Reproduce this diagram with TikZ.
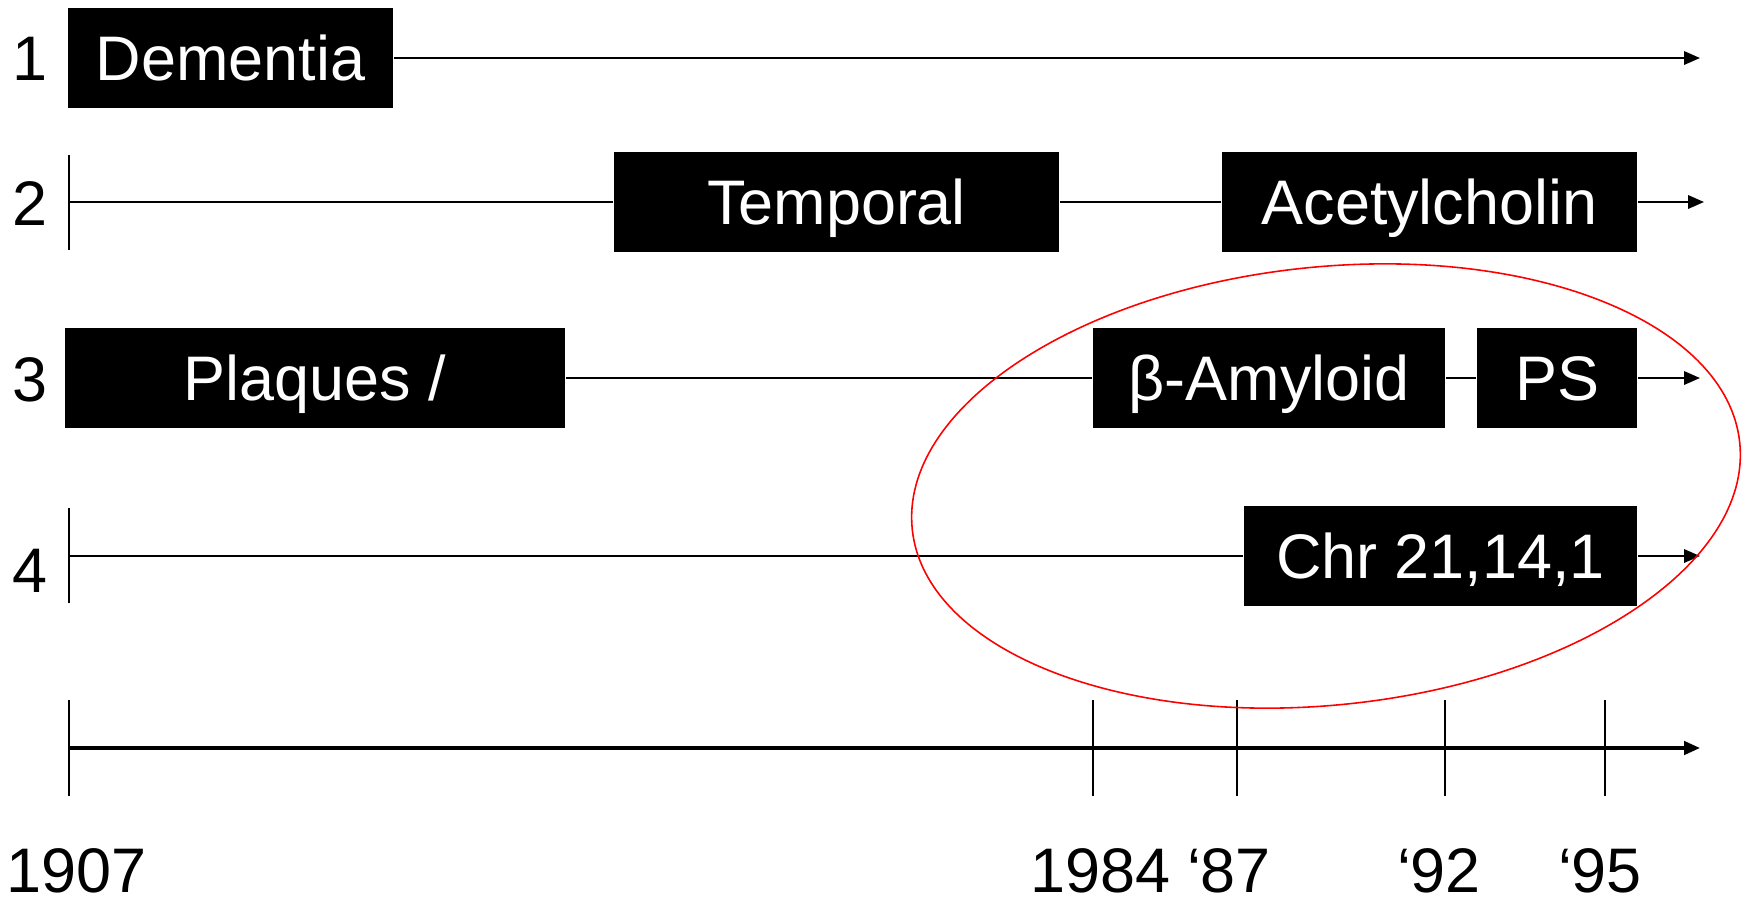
\documentclass[tikz,border=0pt]{standalone}
\usepackage{fontspec}
\setmainfont{Liberation Sans}
\usetikzlibrary{arrows.meta}
\tikzset{
  blackbox/.style={fill=black, text=white, inner sep=0pt, minimum height=.99cm, text height=12.8pt, text depth=0pt},
  tick/.style={line width=.5pt}
}
\begin{document}
\begin{tikzpicture}[>={Triangle[length=4.5pt,width=3.8pt]}, line join=round, x=.01cm, y=-.01cm, line width=.55pt, font=\fontsize{17.9}{20}\selectfont]
            \useasboundingbox (0,0) rectangle (1750,902);
            \def\ya{58} % Zeilen
            \def\yb{202}
            \def\yc{378}
            \def\yd{556}
            \def\yt{748} % Zeitachse
            \foreach \n/\y in {1/59,2/204,3/380,4/571}\node (n\n) at (30,\y) {\n};
            % 1
            \node[blackbox, minimum width=3.25cm] (dementia) at (230.5,\ya) {Dementia};
            \coordinate (e1) at (1700,\ya);
            \draw[->] (dementia) -- (e1);
            % 2
            \coordinate (s2) at (69,\yb);
            \coordinate (e2) at (1704,\yb);
            \draw[tick] (s2) +(0,-47) -- +(0,48);
            \node[blackbox, minimum width=4.45cm] (temporal) at (836.5,\yb) {Temporal};
            \node[blackbox, minimum width=4.15cm] (acetyl) at (1429.5,\yb) {Acetylcholin};
            \draw (s2) -- (temporal) (temporal) -- (acetyl);
            \draw[->] (acetyl) -- (e2);
            % 3
            \coordinate (s3) at (69,\yc);
            \coordinate (e3) at (1700,\yc);
            \draw[tick] (s3) +(0,-47) -- +(0,50);
            \node[blackbox, minimum width=5cm] (plaques) at (315,\yc) {Plaques /};
            \node[blackbox, minimum width=3.52cm] (amyloid) at (1269,\yc) {β-Amyloid};
            \node[blackbox, minimum width=1.6cm] (ps) at (1557,\yc) {PS};
            \draw (plaques) -- (amyloid) (amyloid) -- (ps);
            \draw[->] (ps) -- (e3);
            % 4
            \coordinate (s4) at (69,\yd);
            \coordinate (e4) at (1700,\yd);
            \draw[tick] (s4) +(0,-48) -- +(0,47);
            \node[blackbox, minimum width=3.93cm] (chr) at (1440.5,\yd) {Chr 21,14,1};
            \draw (s4) -- (chr);
            \draw[->] (chr) -- (e4);
            % Zeitachse
            \coordinate (t0) at (69,\yt);
            \coordinate (t1) at (1700,\yt);
            \draw[->, line width=.9pt] (t0) -- (t1);
            \foreach \x/\lab/\lx [count=\i] in {69/1907/77, 1093/1984/1101, 1237/‘87/1229, 1445/‘92/1439, 1605/‘95/1600}{
                \draw[tick] (\x,700) -- (\x,796);
                \node (jahr\i) at (\lx,871) {\lab};
            }
            \draw[red, line width=.45pt, rotate around={6:(1326,486)}] (1326,486) ellipse [x radius=416, y radius=219];
        \end{tikzpicture}
\end{document}
